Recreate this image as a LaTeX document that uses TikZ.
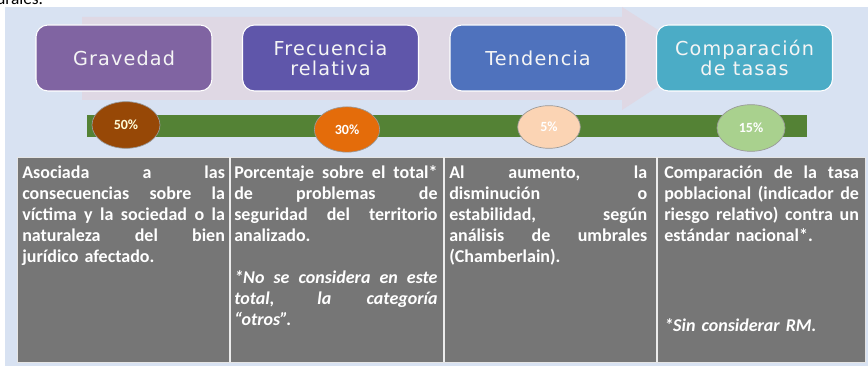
\documentclass[tikz,border=0pt]{standalone}
\usepackage{fontspec}
\setmainfont{Carlito}
\newfontfamily\boxfont[LetterSpace=6]{DejaVu Sans}
\usetikzlibrary{shapes.geometric}
\definecolor{bgblue}{RGB}{216,226,242}
\definecolor{arrowbg}{RGB}{223,216,228}
\definecolor{cgrav}{RGB}{128,100,162}
\definecolor{cfrec}{RGB}{95,86,170}
\definecolor{ctend}{RGB}{79,114,189}
\definecolor{ccomp}{RGB}{75,172,198}
\definecolor{cfifty}{RGB}{151,72,6}
\definecolor{cthirty}{RGB}{228,108,10}
\definecolor{cfive}{RGB}{251,212,180}
\definecolor{cfifteen}{RGB}{169,209,142}
\definecolor{cbar}{RGB}{84,130,53}
\definecolor{ctable}{RGB}{118,118,118}
\newcommand{\jline}[1]{{\spaceskip=0pt\xspaceskip=0pt\makebox[\hsize][s]{#1}}}
\hbadness=10000 \hfuzz=20pt
\begin{document}
\begin{tikzpicture}[x=0.75pt,y=-0.75pt,
  catbox/.style={rectangle, rounded corners=9pt, draw=white, line width=0.8pt,
    minimum width=132pt, minimum height=49.5pt, inner sep=0pt, text=white!96!black,
    align=center, font=\boxfont\fontsize{14.4}{15}\selectfont},
  pct/.style={ellipse, draw=black!40, line width=0.5pt, inner sep=0pt,
    font=\fontsize{10.5}{12}\selectfont\bfseries, text=white},
  tcell/.style={anchor=base west, inner sep=0pt, align=left, text=white,
    font=\fontsize{13.5}{15.75}\selectfont\bfseries},
  tnote/.style={tcell, font=\fontsize{13.5}{15.75}\selectfont\bfseries\itshape}]
\useasboundingbox (0,0) rectangle (868,366);
% clipped text of previous line
\node[anchor=base west, inner sep=0pt, font=\fontsize{13}{15}\selectfont] (prev) at (-4,5) {urales.};
% background
\fill[bgblue] (5,7) rectangle (868,366);
\fill[arrowbg] (82,17) -- (622,17) -- (622,7) -- (702,58) -- (622,110) -- (622,100) -- (82,100) -- cycle;
% category boxes
\node[catbox, fill=cgrav] (grav) at (124,58) {Gravedad};
\node[catbox, fill=cfrec] (frec) at (330.5,58) {Frecuencia\\relativa};
\node[catbox, fill=ctend] (tend) at (538,58) {Tendencia};
\node[catbox, fill=ccomp] (comp) at (744.5,58) {Comparación\\de tasas};
% bar
\node[rectangle, fill=cbar, inner sep=0pt, minimum width=540pt, minimum height=16.5pt, anchor=north west] (bar) at (87,115) {};
% percentages
\node[pct, fill=cfifty, minimum width=51pt, minimum height=35pt, text=yellow!15] (p50) at (126,125) {50\%};
\node[pct, fill=cthirty, minimum width=49pt, minimum height=34pt] (p30) at (347,129.5) {30\%};
\node[pct, fill=cfive, minimum width=47pt, minimum height=32pt] (p5) at (549,127) {5\%};
\node[pct, fill=cfifteen, minimum width=51pt, minimum height=35pt] (p15) at (751,128) {15\%};
% table
\fill[ctable] (17,157) rectangle (865,362);
\draw[white!80!gray, line width=0.6pt] (17,157) rectangle (865,362);
\draw[white!85!gray, line width=0.8pt] (230,157) -- (230,362) (444,157) -- (444,362) (657,157) -- (657,362);
\node[tcell, text width=152pt] (c1) at (22,179) {\jline{Asociada a las}\\\jline{consecuencias sobre la}\\\jline{víctima y la sociedad o la}\\\jline{naturaleza del bien}\\jurídico afectado.};
\node[tcell, text width=152.5pt] (c2) at (234,179) {\jline{Porcentaje sobre el total*}\\\jline{de problemas de}\\\jline{seguridad del territorio}\\analizado.};
\node[tnote, text width=152.5pt] (n2) at (234,284) {\jline{*No se considera en este}\\\jline{total, la categoría}\\“otros”.};
\node[tcell, text width=148.5pt] (c3) at (449,179) {\jline{Al aumento, la}\\\jline{disminución o}\\\jline{estabilidad, según}\\\jline{análisis de umbrales}\\(Chamberlain).};
\node[tcell, text width=146pt] (c4) at (664,179) {\jline{Comparación de la tasa}\\\jline{poblacional (indicador de}\\\jline{riesgo relativo) contra un}\\estándar nacional*.};
\node[tnote, text width=146pt] (n4) at (664,332) {*Sin considerar RM.};
\end{tikzpicture}
\end{document}
